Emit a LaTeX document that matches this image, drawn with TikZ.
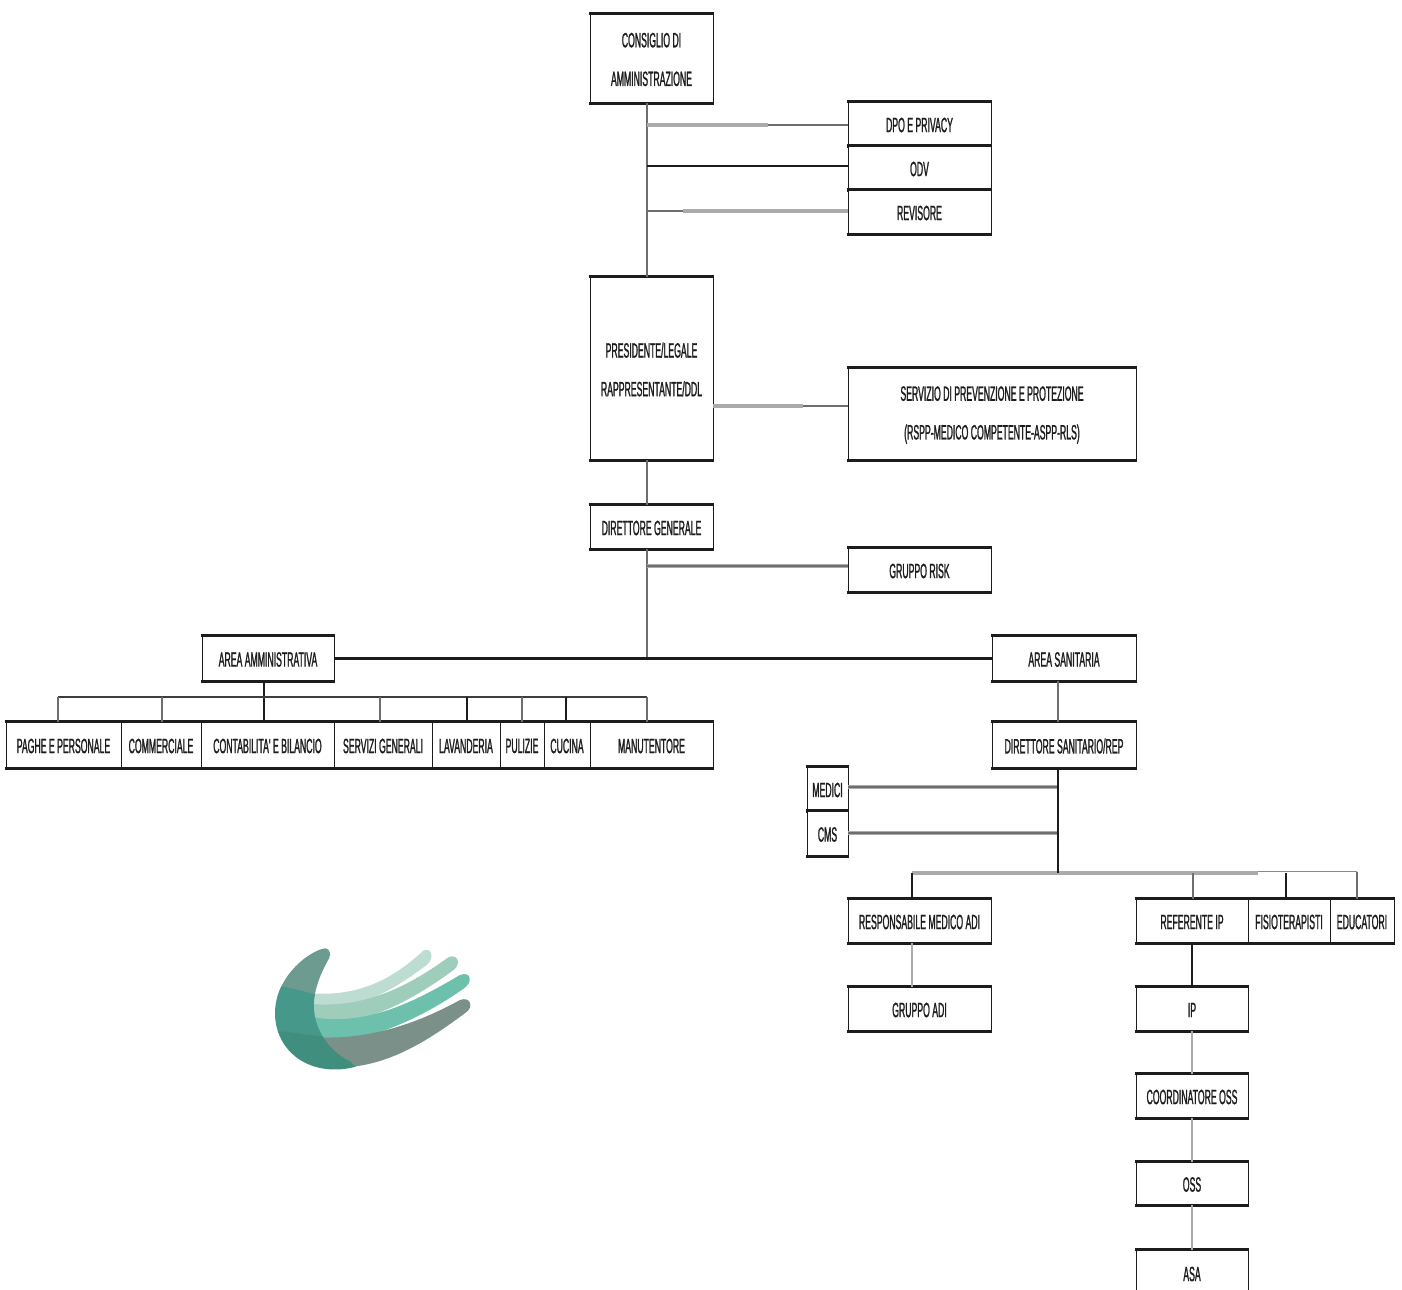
\documentclass[tikz,border=0pt]{standalone}
\usepackage{fontspec}
\newfontfamily\lab[FakeStretch=0.42,FakeBold=1.1]{Liberation Sans}
\usetikzlibrary{calc}
\definecolor{ink}{HTML}{1C1C1C}
\definecolor{linegrey}{HTML}{6E6E6E}
\definecolor{widegrey}{HTML}{ABABAB}
\definecolor{logoa}{HTML}{BEDDD2}
\definecolor{logob}{HTML}{9FCDBC}
\definecolor{logoc}{HTML}{6CC0AC}
\definecolor{logod}{HTML}{7A9088}
\definecolor{logoe}{HTML}{6E9B8F}
\definecolor{logof}{HTML}{46988A}
\definecolor{logog}{HTML}{408F7E}
\tikzset{
  orgbox/.style={draw=ink,line width=0.7pt,fill=white,inner sep=0pt},
  orgtext/.style={inner sep=0pt,align=center,text=ink,font=\lab\fontsize{15.5}{17}\selectfont},
  edgebar/.style={draw=ink,line width=2.2pt},
  thinline/.style={draw=linegrey,line width=0.9pt},
  paleline/.style={draw=widegrey,line width=0.9pt},
  blackline/.style={draw=ink,line width=1pt},
  blackbar/.style={draw=ink,line width=1.9pt},
  midline/.style={draw=linegrey,line width=1.4pt},
  wideline/.style={draw=widegrey,line width=3.2pt},
  coreline/.style={draw=linegrey,line width=0.9pt},
}
\newcommand{\bx}[6]{%
  \node[orgbox,minimum width={(#4-#2)*0.75pt},minimum height={(#5-#3)*0.75pt}] (#1) at ({(#2+#4)/2},{(#3+#5)/2}) {};
  \node[orgtext] (#1t) at ({(#2+#4)/2},{(#3+#5)/2+1}) {#6};
  \draw[edgebar] ($(#1.north west)+(-1,0)$) -- ($(#1.north east)+(1,0)$);
  \draw[edgebar] ($(#1.south west)+(-1,0)$) -- ($(#1.south east)+(1,0)$);
}
\begin{document}
\begin{tikzpicture}[x=0.75pt,y=-0.75pt]
\useasboundingbox (0,0) rectangle (1402,1289);
\clip (0,0) rectangle (1402,1289);
\fill[white] (0,0) rectangle (1402,1289);
\coordinate (tr) at (647,0);
\coordinate (ts) at (1058,0);
\coordinate (ta) at (264,0);
\coordinate (tip) at (1192,0);
\coordinate (tadi) at (912,0);
\bx{cda}{590}{14}{713}{103}{CONSIGLIO DI\\[12pt]AMMINISTRAZIONE}
\bx{dpo}{848}{102}{991}{146}{DPO E PRIVACY}
\bx{odv}{848}{146}{991}{190}{ODV}
\bx{rev}{848}{190}{991}{234}{REVISORE}
\bx{pres}{590}{277}{713}{460}{PRESIDENTE/LEGALE\\[12pt]RAPPRESENTANTE/DDL}
\bx{spp}{848}{368}{1136}{460}{SERVIZIO DI PREVENZIONE E PROTEZIONE\\[12pt](RSPP-MEDICO COMPETENTE-ASPP-RLS)}
\bx{dg}{590}{505}{713}{549}{DIRETTORE GENERALE}
\bx{risk}{848}{548}{991}{592}{GRUPPO RISK}
\bx{aa}{202}{636}{334}{681}{AREA AMMINISTRATIVA}
\bx{as}{992}{636}{1136}{681}{AREA SANITARIA}
\bx{paghe}{6}{722}{121}{768}{PAGHE E PERSONALE}
\bx{comm}{121}{722}{201}{768}{COMMERCIALE}
\bx{cont}{201}{722}{334}{768}{CONTABILITA' E BILANCIO}
\bx{serv}{334}{722}{432}{768}{SERVIZI GENERALI}
\bx{lav}{432}{722}{500}{768}{LAVANDERIA}
\bx{pul}{500}{722}{544}{768}{PULIZIE}
\bx{cuc}{544}{722}{590}{768}{CUCINA}
\bx{man}{590}{722}{713}{768}{MANUTENTORE}
\bx{ds}{992}{722}{1136}{768}{DIRETTORE SANITARIO/REP}
\bx{med}{807}{767}{848}{811}{MEDICI}
\bx{cms}{807}{811}{848}{856}{CMS}
\bx{resp}{848}{899}{991}{943}{RESPONSABILE MEDICO ADI}
\bx{adi}{848}{987}{991}{1031}{GRUPPO ADI}
\bx{ref}{1136}{899}{1248}{943}{REFERENTE IP}
\bx{fis}{1248}{899}{1330}{943}{FISIOTERAPISTI}
\bx{edu}{1330}{899}{1394}{943}{EDUCATORI}
\bx{ip}{1136}{987}{1248}{1031}{IP}
\bx{coord}{1136}{1074}{1248}{1118}{COORDINATORE OSS}
\bx{oss}{1136}{1162}{1248}{1205}{OSS}
\bx{asa}{1136}{1250}{1248}{1296}{ASA}
% upper trunk
\draw[thinline] (cda.south -| tr) -- (pres.north -| tr);
\draw[thinline] (pres.south -| tr) -- (dg.north -| tr);
\coordinate (hub) at (647,658);
\draw[thinline] (dg.south -| tr) -- (hub);
% staff links
\coordinate (dpomid) at (768,125);
\draw[wideline] (dpomid -| tr) -- (dpomid);
\draw[midline] (dpomid) -- (dpo.west |- dpomid);
\coordinate (odvj) at (647,166);
\draw[blackbar] (odvj) -- (odv.west |- odvj);
\coordinate (revmid) at (683,211);
\draw[midline] (revmid -| tr) -- (revmid);
\draw[wideline] (revmid) -- (rev.west |- revmid);
\coordinate (sppmid) at (803,406);
\draw[wideline] (pres.east |- sppmid) -- (sppmid);
\draw[midline] (sppmid) -- (spp.west |- sppmid);
\coordinate (riskj) at (647,566);
\draw[wideline] (riskj) -- (risk.west |- riskj);
\draw[coreline] (riskj) -- (risk.west |- riskj);
% areas
\draw[blackbar] (aa.east) -- (as.west);
\draw[blackline] (aa.south -| ta) -- (cont.north -| ta);
\coordinate (busl) at (58,697);
\coordinate (busr) at (647,697);
\draw[blackbar,draw=ink!85] (busl) -- (busr);
\draw[thinline] (busl) -- (paghe.north -| busl);
\coordinate (d2) at (162,697); \draw[thinline] (d2) -- (comm.north -| d2);
\coordinate (d4) at (380,697); \draw[thinline] (d4) -- (serv.north -| d4);
\coordinate (d5) at (467,697); \draw[blackline] (d5) -- (lav.north -| d5);
\coordinate (d6) at (522,697); \draw[thinline] (d6) -- (pul.north -| d6);
\coordinate (d7) at (566,697); \draw[blackline] (d7) -- (cuc.north -| d7);
\draw[thinline] (busr) -- (man.north -| busr);
% health branch
\draw[thinline] (as.south -| ts) -- (ds.north -| ts);
\coordinate (sbus) at (1058,873);
\coordinate (medj) at (1058,787);
\coordinate (cmsj) at (1058,833);
\draw[wideline] (med.east |- medj) -- (medj);
\draw[coreline] (med.east |- medj) -- (medj);
\draw[wideline] (cms.east |- cmsj) -- (cmsj);
\draw[coreline] (cms.east |- cmsj) -- (cmsj);
\coordinate (bl) at (912,873);
\coordinate (bm) at (1258,873);
\coordinate (br) at (1357,871.5);
\draw[wideline] (bl) -- (bm);
\draw[midline,draw=widegrey!80!black] (bm |- br) -- (br);
\draw[blackline] (ds.south -| ts) -- (sbus);
\draw[blackline] (bl) -- (resp.north -| bl);
\coordinate (b2) at (1193,873); \draw[thinline] (b2) -- (ref.north -| b2);
\coordinate (b3) at (1286,873); \draw[blackline] (b3) -- (fis.north -| b3);
\draw[thinline] (br) -- (edu.north -| br);
\draw[paleline] (resp.south -| tadi) -- (adi.north -| tadi);
\draw[blackline] (ref.south -| tip) -- (ip.north -| tip);
\draw[paleline] (ip.south -| tip) -- (coord.north -| tip);
\draw[paleline] (coord.south -| tip) -- (oss.north -| tip);
\draw[paleline] (oss.south -| tip) -- (asa.north -| tip);
% logo
\begin{scope}[shift={(260,930)},x=0.25pt,y=-0.25pt]
\fill[logoa] (155,190) .. controls (300,200) and (400,145) .. (490,62) .. controls (515,50) and (525,85) .. (500,105) .. controls (400,180) and (300,240) .. (155,240) -- cycle;
\fill[logob] (155,222) .. controls (320,235) and (450,165) .. (565,82) .. controls (595,68) and (605,105) .. (578,122) .. controls (450,215) and (310,290) .. (165,280) -- cycle;
\fill[logoc] (160,262) .. controls (330,290) and (480,205) .. (600,135) .. controls (635,122) and (638,158) .. (612,175) .. controls (500,255) and (320,345) .. (175,335) -- cycle;
\fill[logod] (175,322) .. controls (350,330) and (500,265) .. (600,210) .. controls (632,198) and (642,232) .. (617,248) .. controls (500,335) and (400,395) .. (280,410) .. controls (230,400) and (190,360) .. (175,322) -- cycle;
\begin{scope}
\clip (185,57) .. controls (130,75) and (45,150) .. (45,250) .. controls (45,345) and (120,425) .. (240,418) .. controls (265,416) and (285,412) .. (300,405) .. controls (240,390) and (170,330) .. (162,240) .. controls (158,180) and (185,125) .. (207,85) .. controls (217,60) and (200,50) .. (185,57) -- cycle;
\fill[logoe] (0,0) rectangle (300,200);
\fill[logof] (0,160) .. controls (60,165) and (120,180) .. (170,195) -- (200,330) -- (0,300) -- cycle;
\fill[logog] (0,298) .. controls (80,305) and (150,315) .. (190,320) -- (320,440) -- (0,440) -- cycle;
\end{scope}
\end{scope}
\end{tikzpicture}
\end{document}
